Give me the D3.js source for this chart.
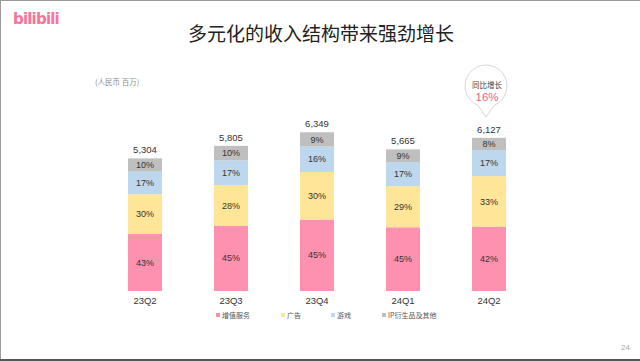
<!DOCTYPE html>
<html>
<head>
<meta charset="utf-8">
<script src="https://cdn.jsdelivr.net/npm/d3@7"></script>
<style>
  body { margin: 0; background: #fff; }
  svg { display: block; font-family: "Noto Sans CJK SC", "Liberation Sans", sans-serif; }
</style>
</head>
<body>
<script>
(function(){

    var quarters = ["23Q2", "23Q3", "23Q4", "24Q1", "24Q2"];
    var totals = [5304, 5805, 6349, 5665, 6127];

    var seriesNames = ["增值服务", "广告", "游戏", "IP衍生品及其他"];
    var vasPct = [43, 45, 45, 45, 42];
    var adsPct = [30, 28, 30, 29, 33];
    var gamesPct = [17, 17, 16, 17, 17];
    var ipPct = [10, 10, 9, 9, 8];

    var colors = ["#FF91B0", "#FFE597", "#BDD7EE", "#BFBFBF"];

    window.onload = draw();

    function draw(){
        var width = 640, height = 361;

        var svg = d3.select("body").append("svg")
            .attr("width", width)
            .attr("height", height);

        // frame lines of the slide
        svg.append("rect").attr("x", 0).attr("y", 0).attr("width", width).attr("height", 1).attr("fill", "#9a9a9a");
        svg.append("rect").attr("x", 0).attr("y", 0).attr("width", 1).attr("height", height).attr("fill", "#9a9a9a");
        svg.append("rect").attr("x", 0).attr("y", height - 2).attr("width", width).attr("height", 2).attr("fill", "#555");

        // logo
        svg.append("text")
            .attr("x", 13).attr("y", 24)
            .attr("fill", "#FB7299")
            .attr("font-size", 15)
            .attr("font-weight", "bold")
            .attr("font-family", "DejaVu Sans")
            .attr("letter-spacing", -0.8)
            .text("bilibili");

        svg.append("text")
            .attr("x", 321).attr("y", 41)
            .attr("text-anchor", "middle")
            .attr("font-size", 19)
            .attr("fill", "#222")
            .text("多元化的收入结构带来强劲增长");

        svg.append("text")
            .attr("x", 95).attr("y", 85)
            .attr("font-size", 7.5)
            .attr("fill", "#8a8a8a")
            .text("(人民币 百万)");

        var x = d3.scalePoint()
            .domain(quarters)
            .range([102, 532])
            .padding(0.5);

        var y = d3.scaleLinear()
            .domain([0, 7000])
            .range([291, 116]);

        var barW = 34;

        var rows = quarters.map(function(q, i){
            return { q: q, total: totals[i], pcts: [vasPct[i], adsPct[i], gamesPct[i], ipPct[i]] };
        });

        rows.forEach(function(r){
            var acc = 0;
            r.segs = r.pcts.map(function(p, k){
                var v0 = acc;
                acc += r.total * p / 100;
                return { q: r.q, k: k, p: p, y0: v0, y1: acc };
            });
        });

        var g = svg.selectAll(".bar")
            .data(rows)
            .enter()
            .append("g")
            .attr("class", "bar");

        g.selectAll("rect")
            .data(function(d){ return d.segs; })
            .enter()
            .append("rect")
            .attr("x", function(d){ return x(d.q) - barW / 2; })
            .attr("y", function(d){ return y(d.y1); })
            .attr("width", barW)
            .attr("height", function(d){ return y(d.y0) - y(d.y1); })
            .attr("fill", function(d){ return colors[d.k]; });

        g.selectAll(".pct")
            .data(function(d){ return d.segs; })
            .enter()
            .append("text")
            .attr("class", "pct")
            .attr("x", function(d){ return x(d.q); })
            .attr("y", function(d){ return (y(d.y0) + y(d.y1)) / 2; })
            .attr("dy", "0.35em")
            .attr("text-anchor", "middle")
            .attr("font-size", 9)
            .attr("font-family", "Liberation Sans")
            .attr("fill", "#333")
            .text(function(d){ return d.p + "%"; });

        g.append("text")
            .attr("x", function(d){ return x(d.q); })
            .attr("y", function(d){ return y(d.total) - 5; })
            .attr("text-anchor", "middle")
            .attr("font-size", 9.5)
            .attr("font-family", "Liberation Sans")
            .attr("fill", "#333")
            .text(function(d){ return d3.format(",")(d.total); });

        g.append("text")
            .attr("x", function(d){ return x(d.q); })
            .attr("y", 304)
            .attr("text-anchor", "middle")
            .attr("font-size", 9.5)
            .attr("font-family", "Liberation Sans")
            .attr("fill", "#333")
            .text(function(d){ return d.q; });

        // callout bubble over last bar
        var cx = x("24Q2") - 3, cy = 86, rad = 21, tipY = 117;
        var lx = cx - 8, rx = cx + 8;
        var by = cy + Math.sqrt(rad * rad - 64);
        var bubble = "M" + lx + "," + by +
            " A" + rad + "," + rad + " 0 1 1 " + rx + "," + by +
            " L" + cx + "," + tipY + " Z";
        svg.append("path")
            .attr("d", bubble)
            .attr("fill", "#fff")
            .attr("stroke", "#d6d6d6")
            .attr("stroke-width", 1);

        svg.append("text")
            .attr("x", cx + 1).attr("y", cy + 2)
            .attr("text-anchor", "middle")
            .attr("font-size", 7.5)
            .attr("fill", "#444")
            .text("同比增长");

        svg.append("text")
            .attr("x", cx + 1).attr("y", cy + 15)
            .attr("text-anchor", "middle")
            .attr("font-size", 11.5)
            .attr("font-family", "Liberation Sans")
            .attr("fill", "#FB5A8A")
            .text("16%");

        // legend
        var legendX = [216, 281, 331, 382];
        var leg = svg.selectAll(".legend")
            .data(seriesNames)
            .enter()
            .append("g")
            .attr("class", "legend")
            .attr("transform", function(d, i){ return "translate(" + legendX[i] + ",316)"; });

        leg.append("rect")
            .attr("x", 0).attr("y", -3)
            .attr("width", 4).attr("height", 4)
            .attr("fill", function(d, i){ return colors[i]; });

        leg.append("text")
            .attr("x", 6).attr("y", 0)
            .attr("dy", "0.3em")
            .attr("font-size", 7)
            .attr("fill", "#555")
            .text(function(d){ return d; });

        svg.append("text")
            .attr("x", 630).attr("y", 350)
            .attr("text-anchor", "end")
            .attr("font-size", 8)
            .attr("font-family", "Liberation Sans")
            .attr("fill", "#aaa")
            .text("24");
    }

})();
</script>
</body>
</html>
